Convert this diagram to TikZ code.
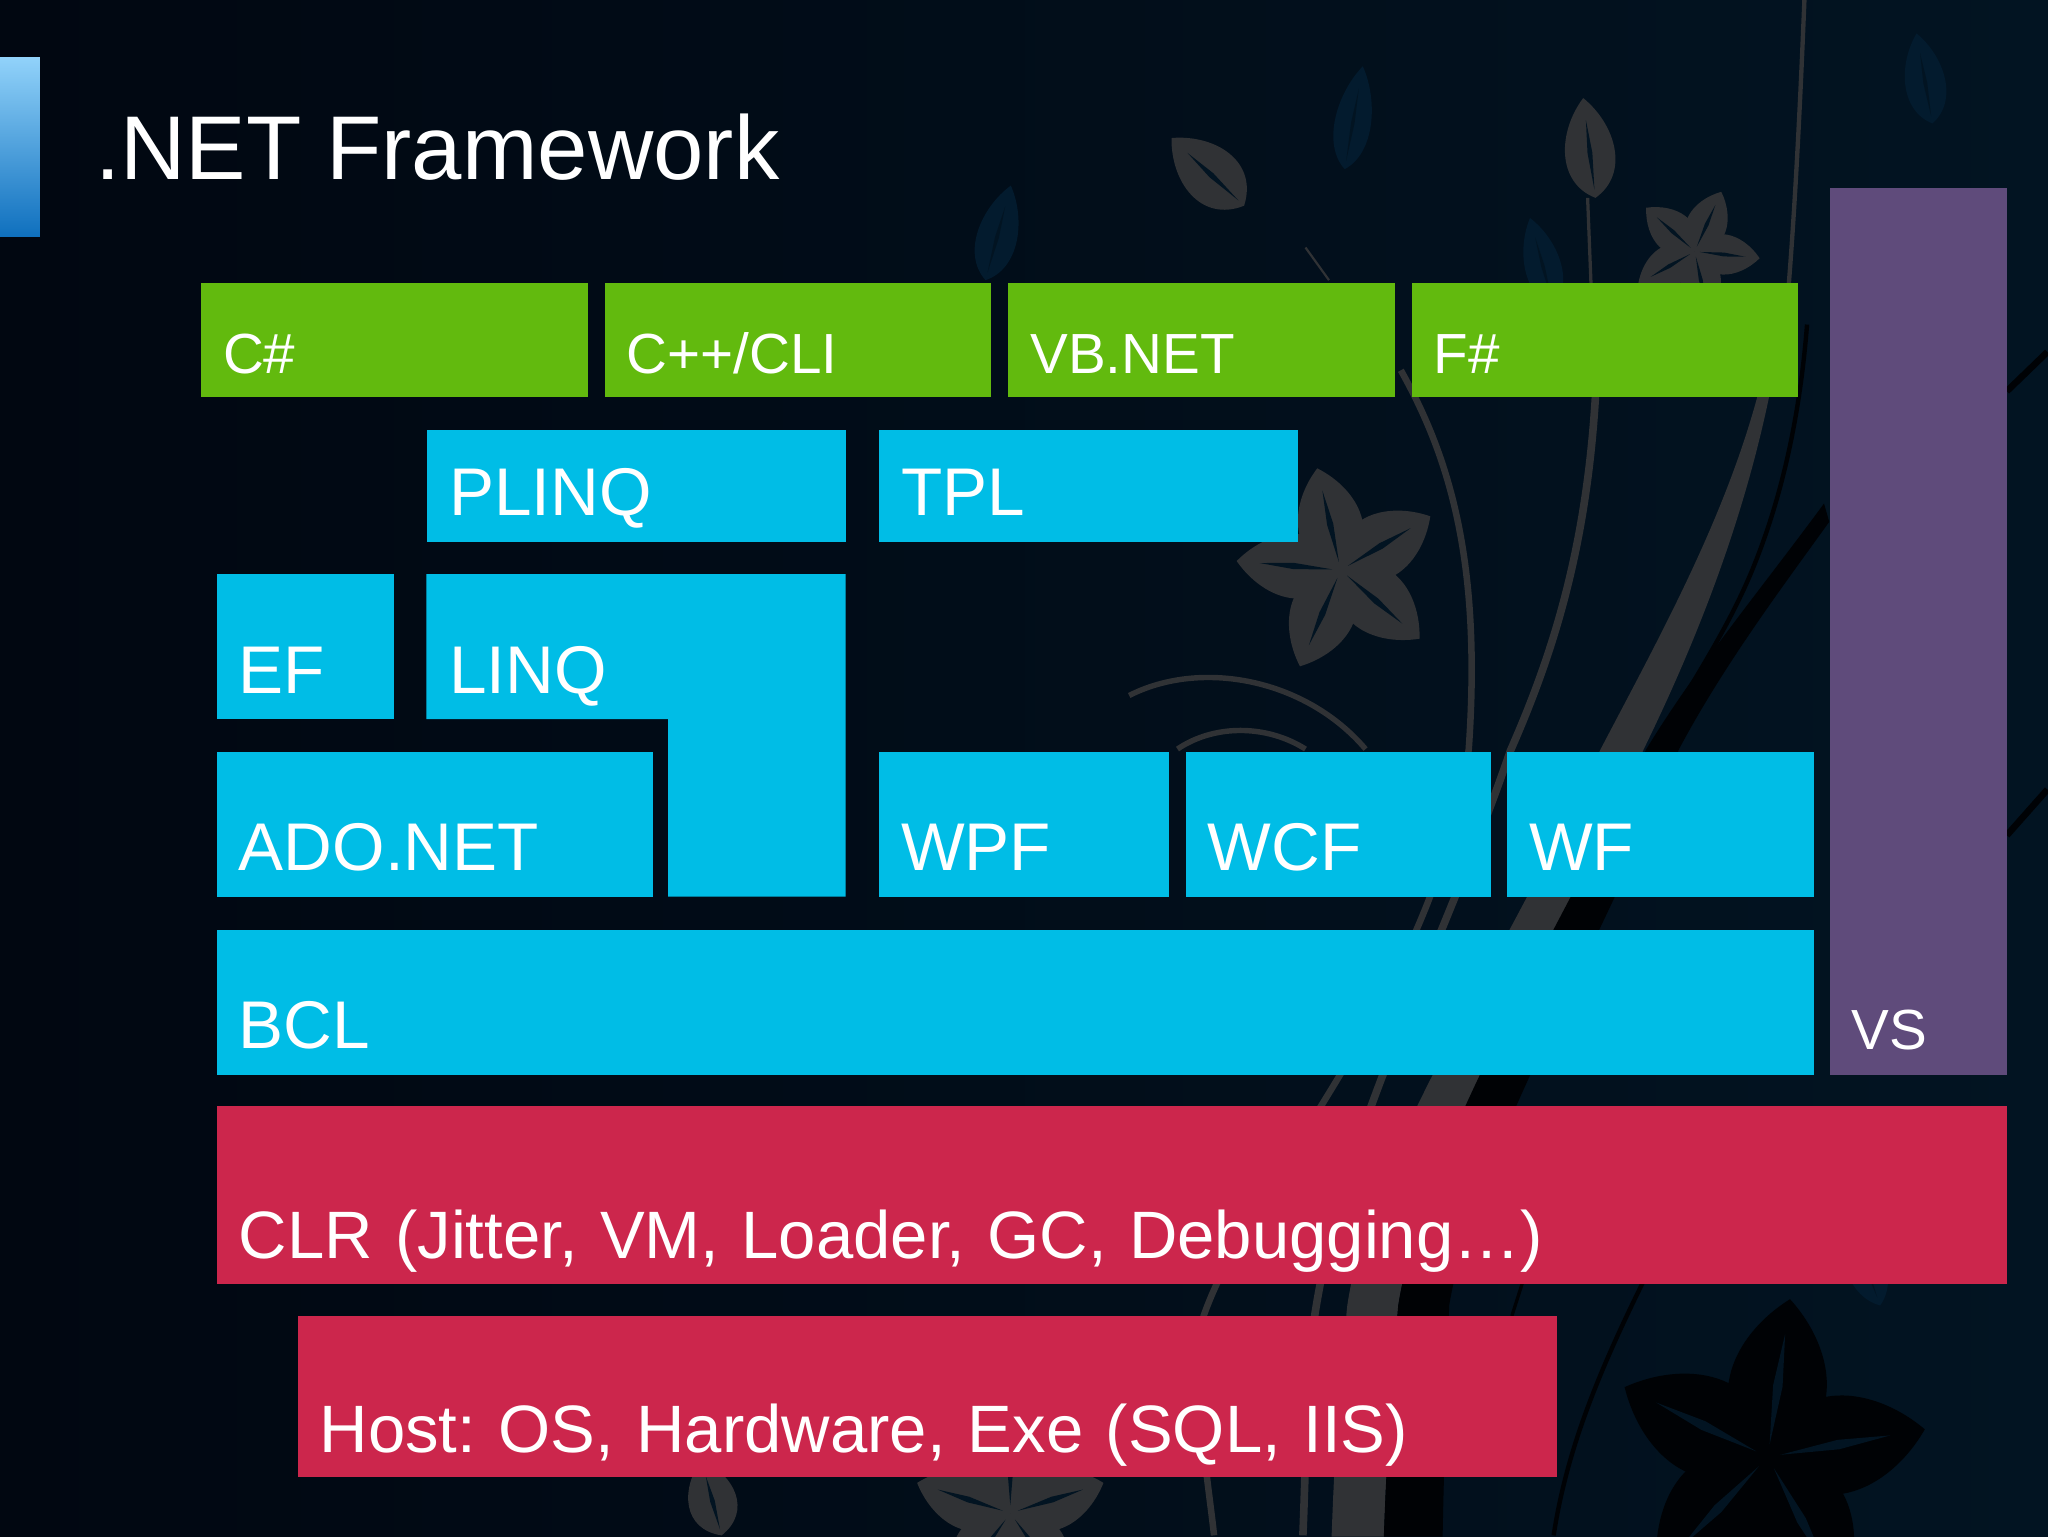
\documentclass[tikz,border=0pt]{standalone}
\usepackage{fontspec}
\setmainfont{Liberation Sans}
\usepackage{xcolor}
\definecolor{slidedark}{RGB}{1,7,17}
\definecolor{slidenavy}{RGB}{2,20,34}
\definecolor{stemgray}{RGB}{48,50,53}
\definecolor{stemblack}{RGB}{0,2,5}
\definecolor{leafblue}{RGB}{3,27,46}
\definecolor{langgreen}{RGB}{98,186,14}
\definecolor{libcyan}{RGB}{0,189,230}
\definecolor{vspurple}{RGB}{95,75,123}
\definecolor{runred}{RGB}{204,38,76}
\definecolor{barlight}{RGB}{145,210,250}
\definecolor{bardark}{RGB}{15,112,190}

\newcommand{\petalshape}{
    \fill (0,0) .. controls (-46,-20) and (-36,-70) .. (0,-100) .. controls (36,-70) and (46,-20) .. (0,0);
    \fill[slidenavy] (0,-8) -- (-3,-45) -- (0,-78) -- (3,-45) -- cycle;
}

\tikzset{
    % width, height, baseline above the bottom edge
    tile/.style n args={3}{anchor=north west, inner ysep=0pt, inner xsep=10.2pt, align=left, text=white,
        text width={(#1-34)*0.6pt}, text height={(#2-#3)*0.6pt}, text depth={#3*0.6pt}},
    smalltext/.style={font=\fontsize{26}{30}\selectfont\frenchspacing},
    bigtext/.style={font=\fontsize{31}{36}\selectfont\frenchspacing},
    longtext/.style={font=\fontsize{30.8}{36}\selectfont\frenchspacing},
    petal/.pic={\petalshape},
    flower/.pic={
        \foreach \ang in {0,72,144,216,288} {
            \begin{scope}[rotate=\ang]
                \petalshape
            \end{scope}
        }
    }
}

\begin{document}
\begin{tikzpicture}[x=0.6pt, y=-0.6pt]
    \useasboundingbox (0.5,0.5) rectangle (1568.5,1176.5);
    \clip (0.5,0.5) rectangle (1568.5,1176.5);
    \shade[left color=slidedark, right color=slidenavy] (0,0) rectangle (1569,1177);

    % faint blue leaves
    \pic[leafblue, rotate=-15, xscale=0.5, yscale=0.75] at (755,215) {petal};
    \pic[leafblue, rotate=-10, xscale=0.45, yscale=0.8] at (1030,130) {petal};
    \pic[leafblue, rotate=15, xscale=0.45, yscale=0.7] at (1190,235) {petal};
    \pic[leafblue, rotate=20, xscale=0.5, yscale=0.8] at (1440,1000) {petal};
    \pic[leafblue, rotate=10, xscale=0.5, yscale=0.7] at (1480,95) {petal};

    % stems
    \draw[stemgray, line width=2pt] (1382,0) .. controls (1378,100) and (1372,220) .. (1362,300);
    \fill[stemgray] (1346,304) .. controls (1320,400) and (1270,490) .. (1226,574)
        .. controls (1150,740) and (1050,880) .. (1032,1000) .. controls (1025,1070) and (1022,1120) .. (1020,1177)
        -- (1060,1177) .. controls (1062,1120) and (1065,1070) .. (1071,1000)
        .. controls (1090,880) and (1190,730) .. (1259,574) .. controls (1300,490) and (1335,400) .. (1355,304) -- cycle;
    \fill[stemblack] (1397,386) .. controls (1350,450) and (1300,510) .. (1261,574)
        .. controls (1190,720) and (1090,880) .. (1071,1000) .. controls (1065,1070) and (1062,1120) .. (1060,1177)
        -- (1105,1177) .. controls (1106,1120) and (1108,1070) .. (1110,1000)
        .. controls (1130,880) and (1230,720) .. (1286,574) .. controls (1320,510) and (1365,450) .. (1401,400) -- cycle;
    \draw[stemblack, line width=2pt] (1384,249) .. controls (1380,300) and (1370,369) .. (1342,437) .. controls (1320,490) and (1290,530) .. (1268,574);
    \draw[stemblack, line width=2pt] (1258,983) .. controls (1225,1050) and (1200,1110) .. (1190,1176);
    \draw[stemblack, line width=1.5pt] (1166,983) -- (1158,1008);
    \draw[stemblack, line width=3pt] (1537,300) -- (1568,270);
    \draw[stemblack, line width=3pt] (1537,640) -- (1568,605);
    \draw[stemgray, line width=1.5pt] (1216,152) -- (1222,304);
    \draw[stemgray, line width=3.5pt] (1222,304) .. controls (1215,420) and (1190,500) .. (1157,575)
        .. controls (1100,740) and (1030,860) .. (1007,1008) .. controls (1000,1080) and (1000,1130) .. (998,1176);
    \draw[stemgray, line width=1pt] (1000,190) -- (1018,215);
    \draw[stemgray, line width=3pt] (1073,284) .. controls (1110,350) and (1135,430) .. (1125,574)
        .. controls (1100,760) and (960,900) .. (922,1008) .. controls (915,1080) and (925,1130) .. (930,1176);
    \draw[stemgray, line width=2.5pt] (865,533) .. controls (920,505) and (1000,520) .. (1046,574);
    \draw[stemgray, line width=2.5pt] (902,574) .. controls (930,555) and (970,555) .. (1000,574);

    % flowers and leaves
    \pic[stemgray, rotate=13, scale=0.8] at (1027,437) {flower};
    \pic[stemgray, rotate=-24, scale=0.5] at (1298,193) {flower};
    \pic[stemgray, rotate=47, xscale=0.7, yscale=0.76] at (953,158) {petal};
    \pic[stemgray, rotate=7, xscale=0.62, yscale=0.77] at (1222,152) {petal};
    \pic[stemgray, scale=0.75] at (774,1159) {flower};
    \pic[stemgray, rotate=15, xscale=0.6, yscale=0.6] at (553,1176) {petal};
    \pic[stemblack, rotate=-8, scale=1.22] at (1354,1116) {flower};

    % title
    \shade[top color=barlight, bottom color=bardark] (0,44.5) rectangle (31,181.5);
    \node[anchor=base west, inner sep=0pt, text=white, font=\fontsize{41.6}{48}\selectfont] (title) at (73,138) {.NET Framework};

    % languages
    \node[tile={296}{87}{18}, smalltext, fill=langgreen] (csharp) at (154,217) {C\#};
    \node[tile={296}{87}{18}, smalltext, fill=langgreen] (cppcli) at (463,217) {C++/CLI};
    \node[tile={296}{87}{18}, smalltext, fill=langgreen] (vbnet) at (772,217) {VB.NET};
    \node[tile={296}{87}{18}, smalltext, fill=langgreen] (fsharp) at (1081,217) {F\#};

    % libraries
    \node[tile={321}{86}{20}, bigtext, fill=libcyan] (plinq) at (327,329) {PLINQ};
    \node[tile={321}{86}{20}, bigtext, fill=libcyan] (tpl) at (673,329) {TPL};
    \node[tile={136}{111}{20}, bigtext, fill=libcyan] (ef) at (166,440) {EF};
    \fill[libcyan] (327,440) -- (648,440) -- (648,687) -- (512,687) -- (512,551) -- (327,551) -- cycle;
    \node[tile={185}{111}{20}, bigtext] (linq) at (327,440) {LINQ};
    \node[tile={334}{111}{20}, bigtext, fill=libcyan] (adonet) at (166,576) {ADO.NET};
    \node[tile={222}{111}{20}, bigtext, fill=libcyan] (wpf) at (673,576) {WPF};
    \node[tile={234}{111}{20}, bigtext, fill=libcyan] (wcf) at (908,576) {WCF};
    \node[tile={235}{111}{20}, bigtext, fill=libcyan] (wf) at (1154,576) {WF};
    \node[tile={1223}{111}{20}, bigtext, fill=libcyan] (bcl) at (166,712) {BCL};

    % tools
    \node[tile={136}{679}{19}, smalltext, fill=vspurple] (vs) at (1401,144) {VS};

    % runtime
    \node[tile={1371}{136}{19}, longtext, fill=runred] (clr) at (166,847) {CLR (Jitter, VM, Loader, GC, Debugging…)};
    \node[tile={964}{123}{19}, longtext, fill=runred] (host) at (228,1008) {Host: OS, Hardware, Exe (SQL, IIS)};
\end{tikzpicture}
\end{document}
